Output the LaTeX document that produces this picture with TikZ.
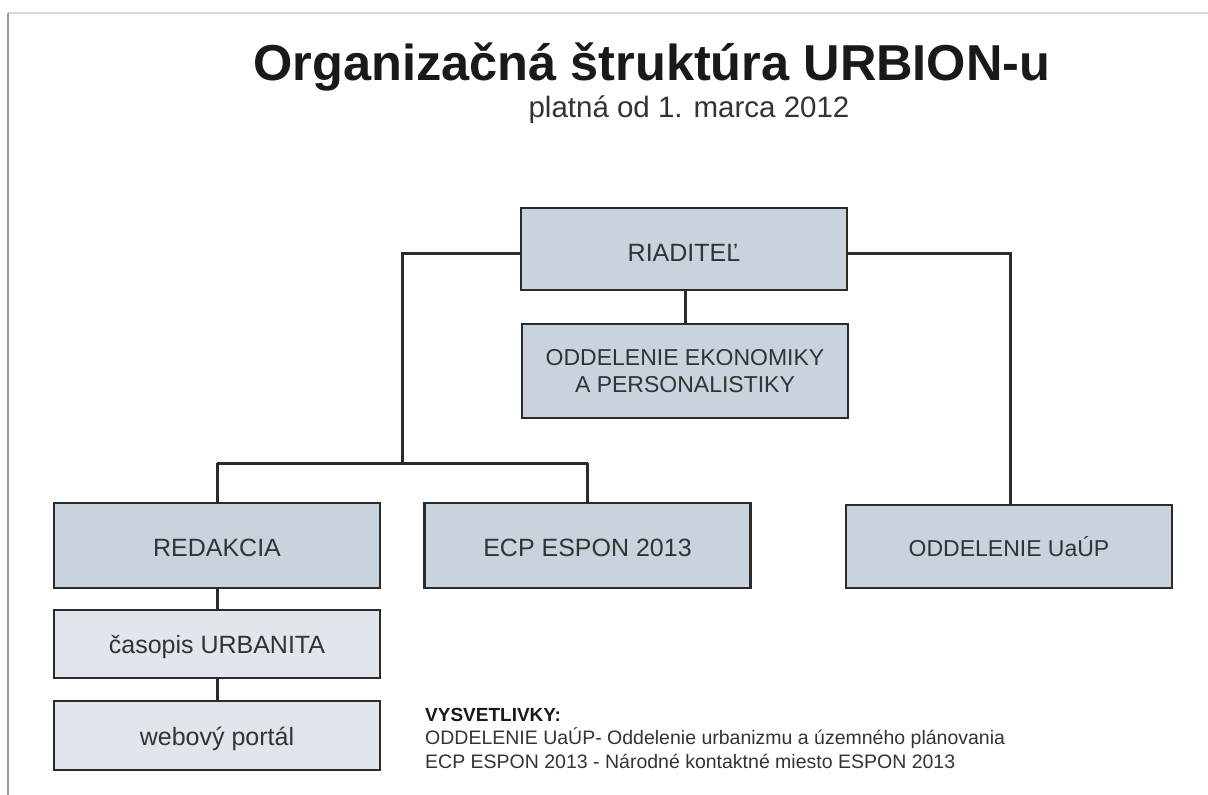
\documentclass[tikz,border=0pt]{standalone}
\usepackage{fontspec}
\setmainfont{Liberation Sans}
\definecolor{boxfill}{HTML}{C8D3DE}
\definecolor{boxlight}{HTML}{E0E6EC}
\definecolor{edge}{HTML}{2B2B2B}
\definecolor{txt}{HTML}{333333}
\tikzset{
  unit/.style={draw=edge, line width=2.6pt, fill=boxfill, minimum width=326pt, inner sep=0pt, text=txt, align=center, font=\fontsize{25}{29}\selectfont},
  small/.style={font=\fontsize{23}{27}\selectfont},
  sub/.style={unit, fill=boxlight, text height=19pt, text depth=0pt},
  oneline/.style={text height=#1, text depth=0pt},
  link/.style={draw=edge, line width=3pt},
  legend/.style={anchor=west, inner sep=0pt, text=txt, font=\fontsize{19.5}{23}\selectfont}
}
\begin{document}
\begin{tikzpicture}[x=1pt,y=-1pt]
\useasboundingbox (0,0) rectangle (1208,795);
\fill[white] (0,0) rectangle (1208,795);
\draw[black!15, line width=1.5pt] (8,13) -- (1208,13);
\draw[black!40, line width=1.5pt] (8,795) -- (8,13);
\node[anchor=base, inner sep=0pt, font=\bfseries\fontsize{50.5}{56}\selectfont, text=black!90] (title) at (652,80) {Organizačná štruktúra URBION-u};
\node[anchor=base, inner sep=0pt, font=\fontsize{29.5}{34}\selectfont, text=txt] (subtitle) at (689,117) {platná od 1. marca 2012};
\node[unit, oneline=25.9pt, minimum height=82pt] (dir) at (684,249) {RIADITEĽ};
\node[unit, small, minimum height=94pt] (eko) at (685,371) {ODDELENIE EKONOMIKY\\A PERSONALISTIKY};
\node[unit, oneline=21.9pt, minimum height=85pt] (red) at (217,545.5) {REDAKCIA};
\node[unit, oneline=21.9pt, minimum height=85pt] (ecp) at (587.5,545.5) {ECP ESPON 2013};
\node[unit, small, oneline=19.5pt, minimum height=83pt] (uup) at (1009,546.5) {ODDELENIE UaÚP};
\node[sub, minimum height=68pt] (cas) at (217,644) {časopis URBANITA};
\node[sub, minimum height=69pt] (web) at (217,735.5) {webový portál};
\coordinate (jl) at (402,253);
\coordinate (jm) at (402,463);
\coordinate (jr) at (1010,253);
\draw[link] (dir.south -| eko.north) -- (eko.north);
\draw[link] (dir.west |- jl) -- (jl) -- (jm);
\draw[link] (red.north |- jm) -- (ecp.north |- jm);
\draw[link] (red.north |- jm) -- (red.north);
\draw[link] (ecp.north |- jm) -- (ecp.north);
\draw[link] (dir.east |- jr) -- (jr) -- (uup.north -| jr);
\draw[link] (red.south) -- (cas.north);
\draw[link] (cas.south) -- (web.north);
\node[legend, font=\bfseries\fontsize{19}{22}\selectfont, text=black!90] (lg0) at (425,715) {VYSVETLIVKY:};
\node[legend] (lg1) at (425,738) {ODDELENIE UaÚP- Oddelenie urbanizmu a územného plánovania};
\node[legend] (lg2) at (425,761) {ECP ESPON 2013 - Národné kontaktné miesto ESPON 2013};
\end{tikzpicture}
\end{document}
